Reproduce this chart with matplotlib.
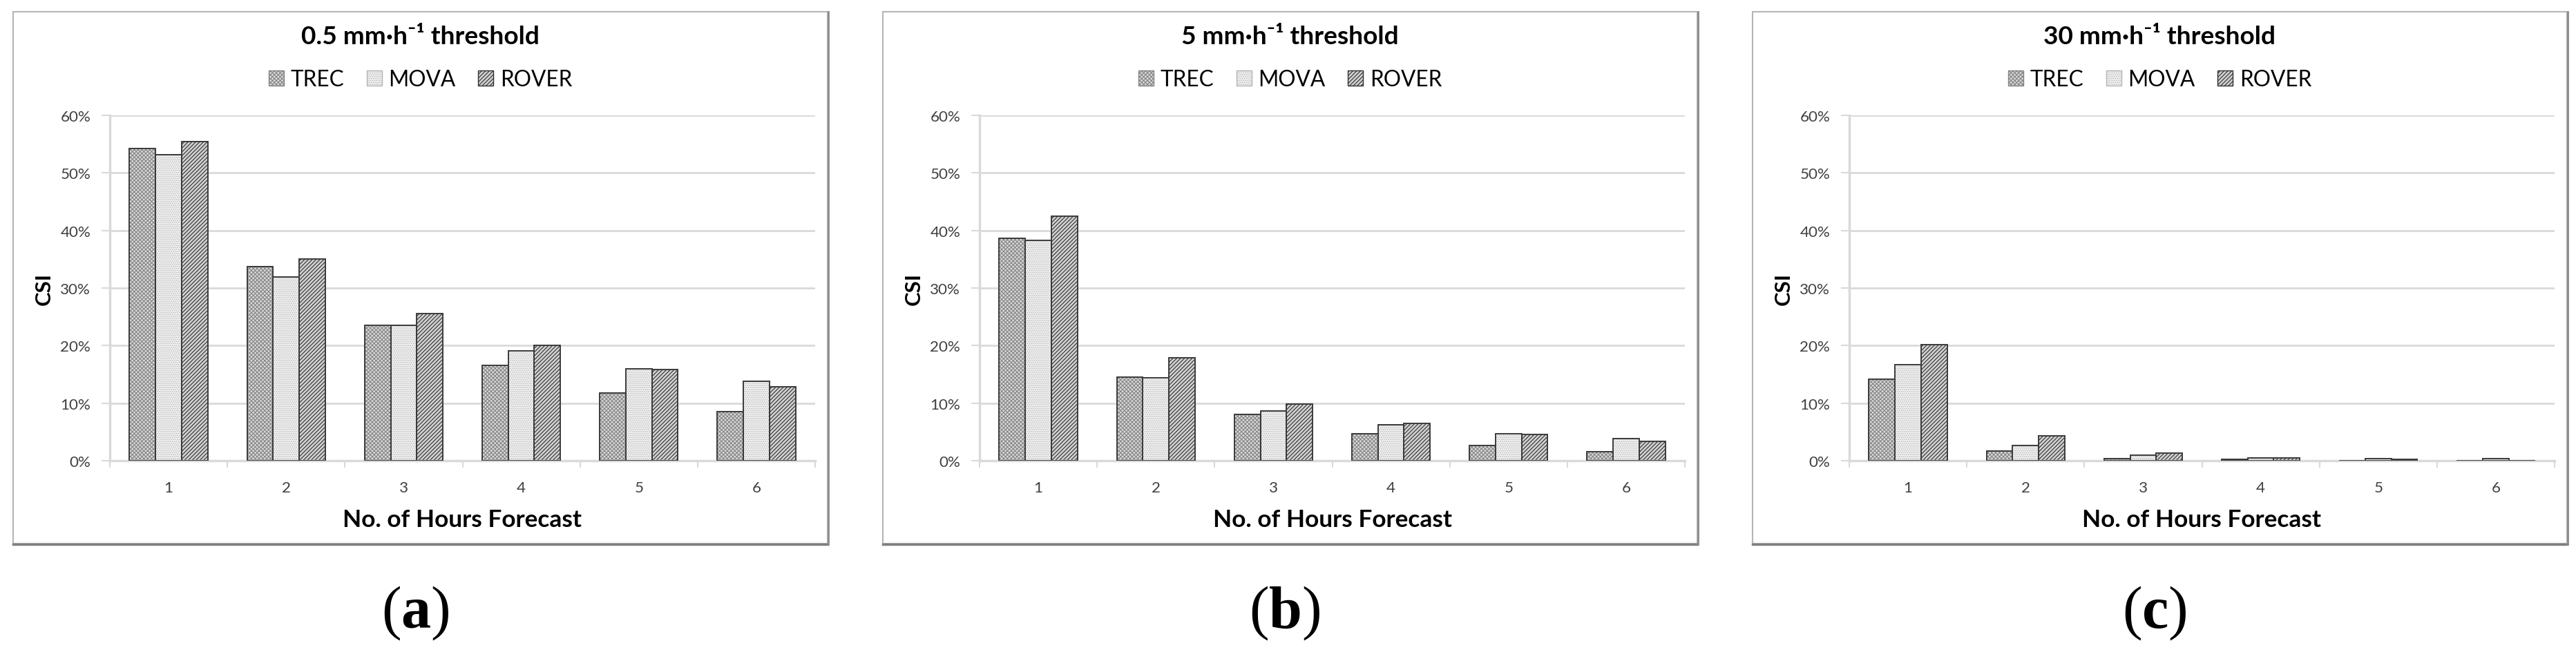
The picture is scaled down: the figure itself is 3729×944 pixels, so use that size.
import matplotlib.pyplot as plt
import numpy as np
from matplotlib.patches import Patch, Rectangle
from matplotlib.lines import Line2D

hours = ["1", "2", "3", "4", "5", "6"]
methods = ["TREC", "MOVA", "ROVER"]
titles = ["0.5 mm·h⁻¹ threshold", "5 mm·h⁻¹ threshold", "30 mm·h⁻¹ threshold"]
panel_tags = ["a", "b", "c"]
y_ticks = [0, 10, 20, 30, 40, 50, 60]

# CSI in percent
trec_05 = [54.3, 33.7, 23.5, 16.6, 11.8, 8.5]
mova_05 = [53.2, 31.9, 23.5, 19.1, 16.0, 13.8]
rover_05 = [55.4, 35.0, 25.6, 20.1, 15.9, 12.8]

trec_5 = [38.6, 14.5, 8.1, 4.7, 2.7, 1.6]
mova_5 = [38.3, 14.4, 8.7, 6.3, 4.7, 3.8]
rover_5 = [42.5, 17.9, 9.8, 6.5, 4.6, 3.4]

trec_30 = [14.2, 1.7, 0.4, 0.25, 0.05, 0.05]
mova_30 = [16.7, 2.7, 1.0, 0.5, 0.4, 0.35]
rover_30 = [20.2, 4.3, 1.3, 0.5, 0.25, 0.05]

panels = [
    [trec_05, mova_05, rover_05],
    [trec_5, mova_5, rover_5],
    [trec_30, mova_30, rover_30],
]

# face colour, hatch, hatch colour for each method
styles = {
    "TREC": ("#d8d8d8", "xxxxxx", "#858585"),
    "MOVA": ("#f4f4f4", "......", "#b4b4b4"),
    "ROVER": ("#d0d0d0", "//////", "#303030"),
}

plt.rcParams["font.family"] = ["Lato", "DejaVu Sans"]
plt.rcParams["hatch.linewidth"] = 0.8
plt.rcParams["mathtext.fontset"] = "custom"
plt.rcParams["mathtext.rm"] = "Liberation Serif"
plt.rcParams["mathtext.bf"] = "Liberation Serif:bold"

W, H = 3729, 945
fig = plt.figure(figsize=(W / 100, H / 100), dpi=100)
fig.patch.set_facecolor("white")
renderer = fig.canvas.get_renderer()


def size_for(text, target_px, weight="normal", probe=20):
    # font size that makes `text` about target_px wide
    t = fig.text(0, 0, text, fontsize=probe, fontweight=weight)
    w = t.get_window_extent(renderer).width
    t.remove()
    return probe * target_px / w


title_fs = size_for(titles[0], 344, "bold")
legend_fs = size_for("ROVER", 104)
tick_fs = size_for("60%", 44)
label_fs = size_for("No. of Hours Forecast", 346, "bold")
csi_fs = size_for("CSI", 47, "bold")
legend_px = legend_fs * 100 / 72

grid_col = "#d9d9d9"
frame_lefts = [19, 1278, 2537]
frame_w = 1179
frame_top, frame_bot = 18, 788
bar_w = 0.222
x = np.arange(len(hours))

for i, (series, title, tag) in enumerate(zip(panels, titles, panel_tags)):
    fl = frame_lefts[i]
    cx = (fl + frame_w / 2) / W

    # chart frame with a small shadow on the right and bottom
    fig.add_artist(Rectangle((fl / W, 1 - frame_bot / H), frame_w / W, (frame_bot - frame_top) / H,
                             transform=fig.transFigure, fill=False, edgecolor="#b5b5b5", lw=1.5))
    fig.add_artist(Line2D([fl / W, (fl + frame_w) / W], [1 - (frame_bot + 1) / H] * 2,
                          transform=fig.transFigure, color="#7f7f7f", lw=2.5))
    fig.add_artist(Line2D([(fl + frame_w + 1) / W] * 2, [1 - (frame_bot + 1) / H, 1 - frame_top / H],
                          transform=fig.transFigure, color="#8c8c8c", lw=2.0))

    ax_left = fl + 140
    ax_right = fl + 1161
    ax = fig.add_axes([ax_left / W, 1 - 668 / H, (ax_right - ax_left) / W, 500 / H])

    for k, (name, vals) in enumerate(zip(methods, series)):
        fc, hatch, hc = styles[name]
        pos = x + (k - 1) * bar_w
        ax.bar(pos, vals, bar_w, color=fc, hatch=hatch, edgecolor=hc, linewidth=0, zorder=2)
        ax.bar(pos, vals, bar_w, fill=False, edgecolor="#3a3a3a", linewidth=1.4, zorder=3)

    ax.set_xlim(-0.5, len(hours) - 0.5)
    ax.set_ylim(0, 60)
    ax.set_yticks(y_ticks)
    ax.set_yticklabels([f"{t}%" for t in y_ticks])
    ax.set_xticks(x)
    ax.set_xticklabels(hours)
    ax.set_xticks(np.arange(-0.5, len(hours)), minor=True)
    ax.tick_params(axis="x", which="major", length=0, pad=21, labelsize=tick_fs, labelcolor="#404040")
    ax.tick_params(axis="x", which="minor", length=7, width=1.5, color=grid_col)
    ax.tick_params(axis="y", length=9, width=1.5, color=grid_col, pad=11, labelsize=tick_fs,
                   labelcolor="#404040")
    ax.grid(axis="y", color=grid_col, linewidth=2, zorder=0)
    ax.set_axisbelow(True)
    for side in ["top", "right"]:
        ax.spines[side].set_visible(False)
    for side in ["left", "bottom"]:
        ax.spines[side].set_color(grid_col)
        ax.spines[side].set_linewidth(2.5)

    ax.set_xlabel("No. of Hours Forecast", fontsize=label_fs, fontweight="bold", labelpad=14)
    fig.text((fl + 45) / W, 1 - 418 / H, "CSI", rotation=90, fontsize=csi_fs, fontweight="bold",
             ha="center", va="center")

    fig.text(cx, 1 - 54 / H, title, fontsize=title_fs, fontweight="bold", ha="center", va="center")

    handles = [Patch(facecolor=styles[m][0], hatch=styles[m][1], edgecolor=styles[m][2], linewidth=1.0)
               for m in methods]
    fig.legend(handles, methods, loc="center", bbox_to_anchor=(cx, 1 - 116 / H), ncol=3,
               frameon=False, fontsize=legend_fs, handlelength=22 / legend_px,
               handleheight=22 / legend_px, handletextpad=10 / legend_px,
               columnspacing=32 / legend_px)

    fig.text((fl + 582) / W, 1 - 888 / H, r"$\mathrm{(}\mathbf{" + tag + r"}\mathrm{)}$",
             fontsize=62, ha="center", va="center")

fig.savefig("out.png", dpi=100)
